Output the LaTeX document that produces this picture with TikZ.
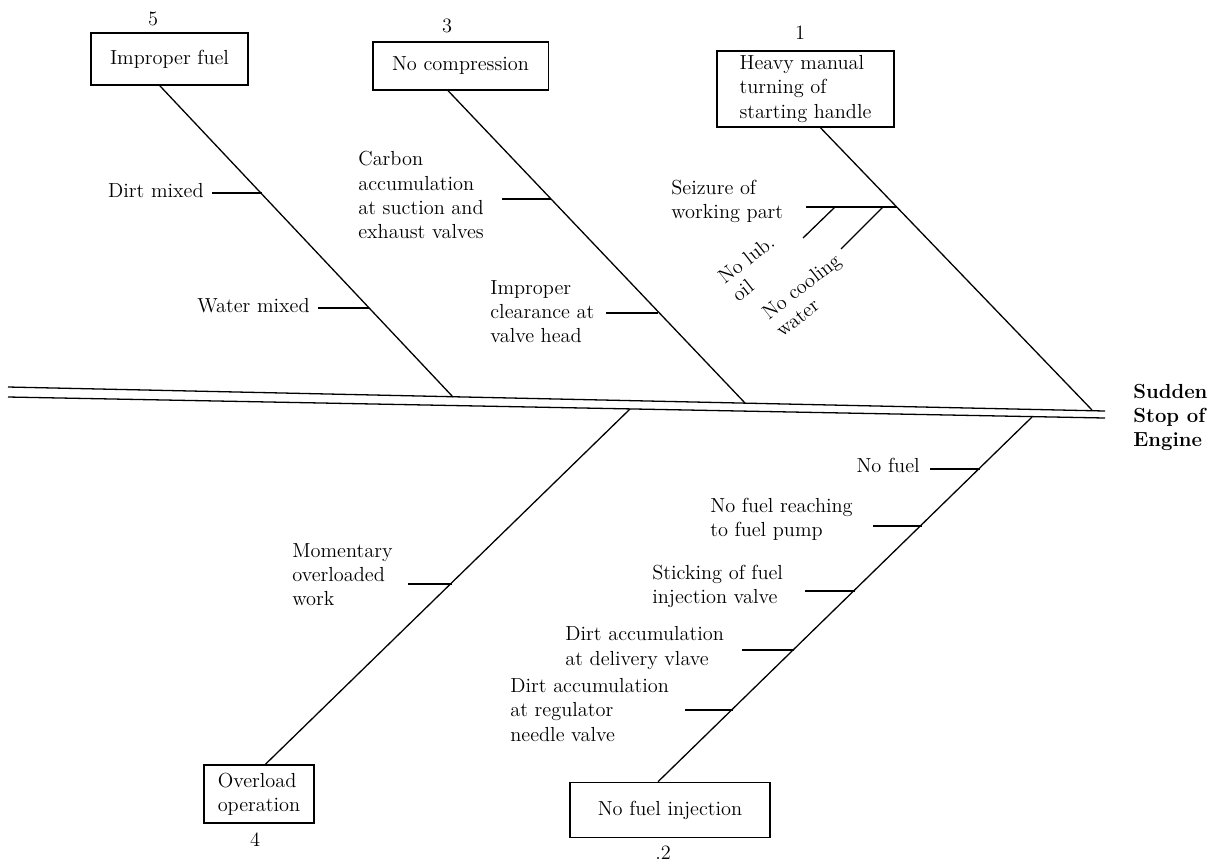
\documentclass[tikz,border=0pt]{standalone}
\usepackage{tikz}
\usetikzlibrary{calc}

\begin{document}
\begin{tikzpicture}[x=0.019cm, y=-0.019cm,
    font=\fontsize{11}{13}\selectfont,
    cause/.style={rectangle, draw, line width=0.7pt, align=left, inner sep=0pt},
    note/.style={align=left, inner sep=0pt},
    bone/.style={line width=0.7pt}
]
\useasboundingbox (0,0) rectangle (1213,865);

% main causes
\node[cause, minimum width=2.98cm, minimum height=0.99cm] (fuel) at (169.5,59) {Improper fuel};
\node (n5) at (153,19) {5};
\node[cause, minimum width=3.33cm, minimum height=0.91cm] (comp) at (460.5,66) {No compression};
\node (n3) at (447,26) {3};
\node[cause, minimum width=3.36cm, minimum height=1.44cm] (heavy) at (805.5,89) {Heavy manual\\turning of\\starting handle};
\node (n1) at (800,33) {1};
\node[cause, minimum width=2.09cm, minimum height=1.10cm] (load) at (259,794) {Overload\\operation};
\node (n4) at (255,840) {4};
\node[cause, minimum width=3.8cm, minimum height=1.05cm] (inj) at (670,810) {No fuel injection};
\node (n2) at (663,853) {.2};

\node[note, font=\fontsize{11}{13}\selectfont\bfseries, anchor=west] (effect) at (1133,417) {Sudden\\Stop of\\Engine};

% spine
\coordinate (ta) at (8,387);
\coordinate (tb) at (1105,411);
\coordinate (ba) at (8,397);
\coordinate (bb) at (1105,418);
\draw[bone] (ta) -- (tb);
\draw[bone] (ba) -- (bb);

\coordinate (s5) at (453,397);
\coordinate (s3) at (745,403);
\coordinate (s1) at (1092,410);
\coordinate (s4) at (630,409);
\coordinate (s2) at (1032,417);

\draw[bone] (fuel.-110) -- (s5);
\draw[bone] (comp.-117) -- (s3);
\draw[bone] (heavy.-69) -- (s1);
\draw[bone] (load.78) -- (s4);
\draw[bone] (inj.113) -- (s2);

% improper fuel
\node[note, anchor=east] (dirt) at (204,191) {Dirt mixed};
\node[note, anchor=east] (water) at (310,306) {Water mixed};
\coordinate (t5a) at (212,193); \coordinate (j5a) at (262,193);
\coordinate (t5b) at (318,308); \coordinate (j5b) at (369,308);
\draw[bone] (t5a) -- (j5a);
\draw[bone] (t5b) -- (j5b);

% no compression
\node[note, anchor=west] (carbon) at (358,195) {Carbon\\accumulation\\at suction and\\exhaust valves};
\node[note, anchor=west] (clear) at (490,312) {Improper\\clearance at\\valve head};
\coordinate (t3a) at (502,199); \coordinate (j3a) at (551,199);
\coordinate (t3b) at (606,313); \coordinate (j3b) at (658,313);
\draw[bone] (t3a) -- (j3a);
\draw[bone] (t3b) -- (j3b);

% heavy turning
\node[note, anchor=west] (seize) at (671,201) {Seizure of\\working part};
\coordinate (t1a) at (806,207); \coordinate (j1a) at (897,207);
\coordinate (k1) at (835,207); \coordinate (e1) at (803,238);
\coordinate (k2) at (883,207); \coordinate (e2) at (841,249);
\draw[bone] (t1a) -- (j1a);
\draw[bone] (k1) -- (e1);
\draw[bone] (k2) -- (e2);
\node[note, rotate=38, font=\fontsize{11}{12}\selectfont] (lub) at (753,268) {No lub.\\oil};
\node[note, rotate=38, font=\fontsize{11}{12}\selectfont] (cool) at (808,295) {No cooling\\water};

% overload
\node[note, anchor=west] (moment) at (292,575) {Momentary\\overloaded\\work};
\coordinate (t4a) at (408,584); \coordinate (j4a) at (452,584);
\draw[bone] (t4a) -- (j4a);

% no fuel injection
\node[note, anchor=east] (nofuel) at (920,465) {No fuel};
\node[note, anchor=west] (reach) at (710,519) {No fuel reaching\\to fuel pump};
\node[note, anchor=west] (stick) at (652,586) {Sticking of fuel\\injection valve};
\node[note, anchor=west] (deliv) at (565,648) {Dirt accumulation\\at delivery vlave};
\node[note, anchor=west] (needle) at (510,710) {Dirt accumulation\\at regulator\\needle valve};
\coordinate (t2a) at (930,469); \coordinate (j2a) at (980,469);
\coordinate (t2b) at (873,526); \coordinate (j2b) at (922,526);
\coordinate (t2c) at (805,591); \coordinate (j2c) at (855,591);
\coordinate (t2d) at (742,650); \coordinate (j2d) at (794,650);
\coordinate (t2e) at (685,710); \coordinate (j2e) at (733,710);
\draw[bone] (t2a) -- (j2a);
\draw[bone] (t2b) -- (j2b);
\draw[bone] (t2c) -- (j2c);
\draw[bone] (t2d) -- (j2d);
\draw[bone] (t2e) -- (j2e);
\end{tikzpicture}
\end{document}
